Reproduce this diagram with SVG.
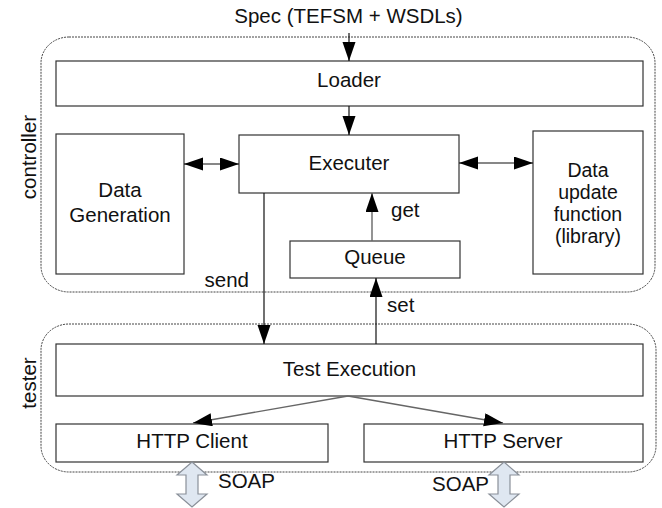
<svg xmlns="http://www.w3.org/2000/svg" width="662" height="508" viewBox="0 0 662 508">
<style>
text{font-family:"Liberation Sans",Arial,sans-serif;font-size:20.5px;fill:#111}
.du{font-size:19.5px}
.box{fill:#fff;stroke:#333;stroke-width:1.2}
.cont{fill:none;stroke:#444;stroke-width:1;stroke-dasharray:2 1}
.ln{fill:none;stroke:#111;stroke-width:1.2}
.lg{fill:none;stroke:#666;stroke-width:1.4}
.soap{fill:#dfe7f1;stroke:#8a9099;stroke-width:1.2}
</style>
<defs>
<marker id="ah" markerUnits="userSpaceOnUse" markerWidth="20" markerHeight="14" refX="19" refY="6.5" orient="auto-start-reverse" viewBox="0 0 20 14">
<path d="M0,0 L19,6.5 L0,13 z" fill="#000"/>
</marker>
</defs>
<rect width="662" height="508" fill="#fff"/>
<g id="controller">
<rect class="cont" x="41" y="37" width="614" height="255" rx="28" ry="26"/>
<text transform="translate(36,157) rotate(-90)" text-anchor="middle">controller</text>
</g>
<g id="tester">
<rect class="cont" x="41" y="324" width="615" height="148" rx="28" ry="26"/>
<text transform="translate(36,383) rotate(-90)" text-anchor="middle">tester</text>
</g>
<g id="spec"><text x="348.5" y="23" text-anchor="middle">Spec (TEFSM + WSDLs)</text></g>
<g id="loader"><rect class="box" x="56" y="61" width="587" height="45"/><text x="349" y="87" text-anchor="middle">Loader</text></g>
<g id="datagen"><rect class="box" x="56" y="134" width="128" height="140"/><text x="120" y="197" text-anchor="middle">Data</text><text x="120" y="222" text-anchor="middle">Generation</text></g>
<g id="executer"><rect class="box" x="239" y="135" width="220" height="58"/><text x="349" y="170" text-anchor="middle">Executer</text></g>
<g id="dataupdate"><rect class="box" x="533" y="131" width="110" height="143"/><text class="du" x="588" y="177" text-anchor="middle">Data</text><text class="du" x="588" y="199" text-anchor="middle">update</text><text class="du" x="588" y="221" text-anchor="middle">function</text><text class="du" x="588" y="243" text-anchor="middle">(library)</text></g>
<g id="queue"><rect class="box" x="290" y="241" width="170" height="37"/><text x="375" y="264" text-anchor="middle">Queue</text></g>
<g id="testexec"><rect class="box" x="56" y="344" width="587" height="52"/><text x="349.5" y="376" text-anchor="middle">Test Execution</text></g>
<g id="httpclient"><rect class="box" x="56" y="424" width="272" height="38"/><text x="192" y="448" text-anchor="middle">HTTP Client</text></g>
<g id="httpserver"><rect class="box" x="364" y="424" width="279" height="38"/><text x="503" y="448" text-anchor="middle">HTTP Server</text></g>
<g id="connectors">
<line class="ln" x1="349" y1="33" x2="349" y2="61" marker-end="url(#ah)"/>
<line class="ln" x1="349" y1="106" x2="349" y2="135" marker-end="url(#ah)"/>
<line class="ln" x1="184" y1="164" x2="239" y2="164" marker-start="url(#ah)" marker-end="url(#ah)"/>
<line class="ln" x1="459" y1="163" x2="533" y2="163" marker-start="url(#ah)" marker-end="url(#ah)"/>
<line class="lg" x1="372" y1="241" x2="372" y2="193" marker-end="url(#ah)"/>
<text x="391" y="217">get</text>
<line class="ln" x1="264" y1="193" x2="264" y2="344" marker-end="url(#ah)"/>
<text x="249" y="287" text-anchor="end">send</text>
<line class="ln" x1="376" y1="344" x2="376" y2="278" marker-end="url(#ah)"/>
<text x="387" y="312">set</text>
<line class="lg" x1="348" y1="396" x2="193" y2="423" marker-end="url(#ah)"/>
<line class="lg" x1="348" y1="396" x2="503" y2="423" marker-end="url(#ah)"/>
<polygon class="soap" points="192,462 207,475 198,475 198,494 207,494 192,507 177,494 186,494 186,475 177,475"/>
<text x="218" y="488">SOAP</text>
<polygon class="soap" points="504,462 519,475 510,475 510,494 519,494 504,507 489,494 498,494 498,475 489,475"/>
<text x="489" y="491" text-anchor="end">SOAP</text>
</g>
</svg>
